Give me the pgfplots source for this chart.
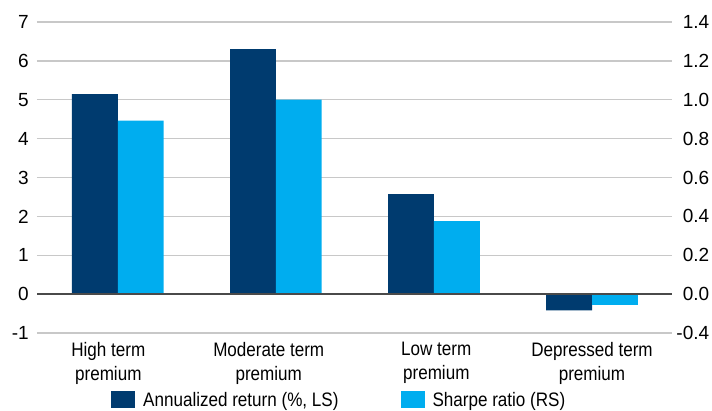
\documentclass[border=0pt]{standalone}
\usepackage{pgfplots}
\pgfplotsset{compat=1.18}
\usepackage{fontspec}
\setmainfont{Liberation Sans}[FakeStretch=0.875]
\newfontfamily\numfont{Liberation Sans}
\definecolor{navy}{HTML}{003B6F}
\definecolor{sky}{HTML}{00ADEF}
\definecolor{gridgray}{HTML}{C8C8C8}
\definecolor{zerogray}{HTML}{4A4A4A}
\begin{document}
\fontsize{19.5bp}{24bp}\selectfont
\begin{tikzpicture}
\useasboundingbox (-37bp,-78bp) rectangle (675bp,333bp);
\pgfplotsset{every axis/.append style={scale only axis, width=635bp, height=311bp,
  xmin=-0.511, xmax=3.506, at={(0,0)}, anchor=south west,
  axis line style={draw=none}, major tick style={draw=none},
  /pgf/number format/assume math mode=true,
  ybar, bar width=0.29}}
\begin{axis}[
  ymin=-1, ymax=7, ytick={-1,0,1,2,3,4,5,6,7},
  yticklabels={-1,0,1,2,3,4,5,6,7},
  yticklabel style={font=\numfont\fontsize{19bp}{22bp}\selectfont, inner sep=0pt, xshift=-8bp},
  ymajorgrids, grid style={gridgray, line width=1.3bp},
  xtick={-0.06,0.955,2.015,3.0},
  xticklabels={High term\\premium, Moderate term\\premium, Low term\\premium, Depressed term\\premium},
  xticklabel style={align=center, font=\fontsize{19.5bp}{24bp}\selectfont, inner sep=0pt, yshift=-5bp},
]
\addplot[fill=navy, draw=none, bar shift=-0.145] coordinates {(0,5.145) (1,6.30) (2,2.57) (3,-0.42)};
\end{axis}
\begin{axis}[
  ymin=-0.2, ymax=1.4, ytick={-0.2,0,0.2,0.4,0.6,0.8,1.0,1.2,1.4},
  yticklabels={-0.4,0.0,0.2,0.4,0.6,0.8,1.0,1.2,1.4},
  yticklabel pos=right,
  yticklabel style={font=\numfont\fontsize{19bp}{22bp}\selectfont, inner sep=0pt, anchor=west, text width=34bp, align=right, xshift=3bp},
  xtick=\empty,
  legend columns=2,
  legend style={at={(0.1165,-0.185)}, anchor=north west, draw=none, fill=none, inner sep=0pt,
    nodes={inner sep=0pt},
    font=\fontsize{19.5bp}{24bp}\selectfont,
    /tikz/every odd column/.append style={column sep=8bp},
    /tikz/every even column/.append style={column sep=62bp}},
]
\addlegendimage{fill=navy, draw=none, legend image code/.code={\fill[navy] (0bp,-7bp) rectangle (24bp,10bp);}}
\addlegendentry{Annualized return (\%, LS)}
\addplot[fill=sky, draw=none, bar shift=0.145, legend image code/.code={\fill[sky] (0bp,-7bp) rectangle (24bp,10bp);}] coordinates {(0,0.892) (1,1.00) (2,0.376) (3,-0.055)};
\addlegendentry{Sharpe ratio (RS)}
\draw[zerogray, line width=1.5bp] (axis cs:-0.511,0) -- (axis cs:3.506,0);
\end{axis}
\end{tikzpicture}
\end{document}
